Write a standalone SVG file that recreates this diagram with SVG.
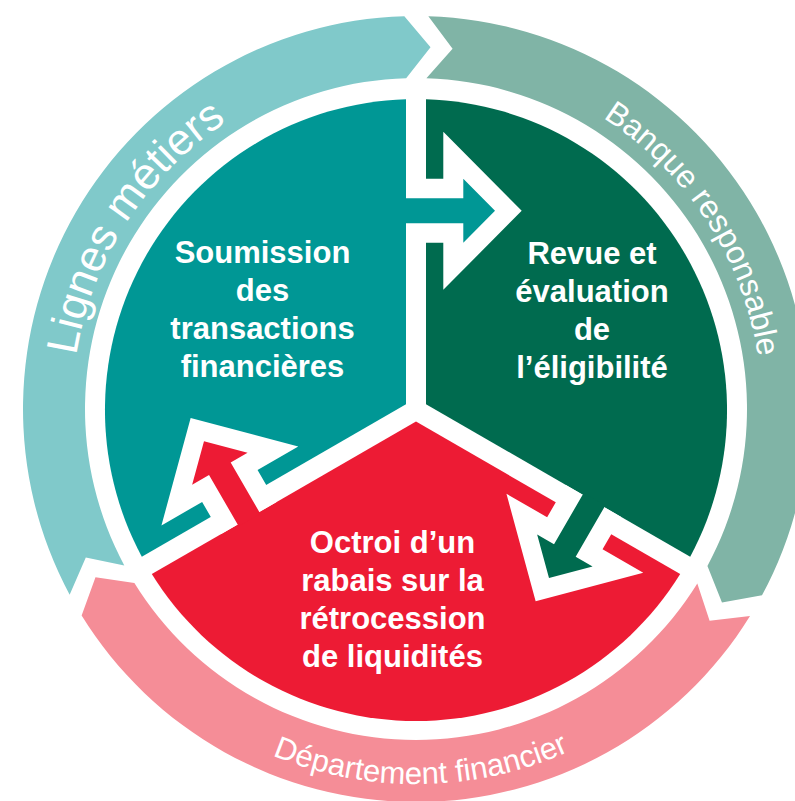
<svg xmlns="http://www.w3.org/2000/svg" width="795" height="801" viewBox="0 0 795 801">
<style>
.ring-text{font-family:"Liberation Sans",Arial,Helvetica,sans-serif;fill:#ffffff;}
.node-text{font-family:"Liberation Sans",Arial,Helvetica,sans-serif;font-weight:bold;font-size:31px;fill:#ffffff;text-anchor:middle;}
.outline{fill:#ffffff;}
</style>
<defs>
<polygon id="arrowOutline" points="-10,-32 27.3,-32 27.3,-79 105.7,0 27.3,79 27.3,32 -10,32"/>
<polygon id="arrowBody" points="-12,-12.5 47.3,-12.5 47.3,-32 79,0 47.3,32 47.3,12.5 -12,12.5"/>
<path id="pathLignes" d="M 87.38 510.72 A 344 344 0 0 1 372.89 67.71"/>
<path id="pathBanque" d="M 458.17 65.58 A 346 346 0 0 1 746.88 510.16"/>
<path id="pathDept" d="M 132.10 654.06 A 375 375 0 0 0 706.63 646.04"/>
</defs>
<rect width="795" height="801" fill="#ffffff"/>

<g id="ring-lignes-metiers">
<path d="M 69.65 594.71 A 393 393 0 0 1 404.34 16.17 L 430.53 47.29 L 406.18 78.15 A 331 331 0 0 0 124.29 565.41 L 85.81 557.39 Z" fill="#80C9CA"/>
<text class="ring-text" font-size="44"><textPath href="#pathLignes" startOffset="50%" text-anchor="middle">Lignes métiers</textPath></text>
</g>
<g id="ring-banque-responsable">
<path d="M 428.34 16.19 A 393 393 0 0 1 762.03 595.32 L 721.98 602.43 L 707.44 565.92 A 331 331 0 0 0 426.40 78.16 L 452.58 48.85 Z" fill="#80B4A6"/>
<text class="ring-text" font-size="32"><textPath href="#pathBanque" startOffset="50%" text-anchor="middle">Banque responsable</textPath></text>
</g>
<g id="ring-departement-financier">
<path d="M 750.01 616.10 A 393 393 0 0 1 81.63 615.51 L 95.49 577.27 L 134.38 582.93 A 331 331 0 0 0 697.31 583.42 L 709.60 620.76 Z" fill="#F58D97"/>
<text class="ring-text" font-size="31"><textPath href="#pathDept" startOffset="50%" text-anchor="middle">Département financier</textPath></text>
</g>

<g id="node-soumission">
<path d="M 406 99.16 L 406 404.2 L 141.8 556.8 A 311 311 0 0 1 406 99.16 Z" fill="#009795"/>
<text class="node-text"><tspan x="262.5" y="263">Soumission</tspan><tspan x="262.5" y="301">des</tspan><tspan x="262.5" y="339">transactions</tspan><tspan x="262.5" y="377">financières</tspan></text>
</g>
<g id="node-revue">
<path d="M 426 99.16 A 311 311 0 0 1 690.2 556.8 L 426 404.2 Z" fill="#006B4F"/>
<text class="node-text"><tspan x="592" y="264">Revue et</tspan><tspan x="592" y="302">évaluation</tspan><tspan x="592" y="340">de</tspan><tspan x="592" y="378">l’éligibilité</tspan></text>
</g>
<g id="node-octroi">
<path d="M 416 421.55 L 680.2 574.1 A 311 311 0 0 1 151.8 574.1 Z" fill="#ED1B34"/>
<text class="node-text"><tspan x="392.5" y="553">Octroi d’un</tspan><tspan x="392.5" y="591">rabais sur la</tspan><tspan x="392.5" y="629">rétrocession</tspan><tspan x="392.5" y="667">de liquidités</tspan></text>
</g>

<g id="connectors">
<g transform="translate(416,210.8)">
<use href="#arrowOutline" class="outline"/>
<use href="#arrowBody" fill="#009795"/>
</g>
<g transform="translate(588.5,509.6) rotate(120)">
<use href="#arrowOutline" class="outline"/>
<use href="#arrowBody" fill="#006B4F"/>
</g>
<g transform="translate(243.5,509.6) rotate(240)">
<use href="#arrowOutline" class="outline"/>
<use href="#arrowBody" fill="#ED1B34"/>
</g>
</g>
</svg>
